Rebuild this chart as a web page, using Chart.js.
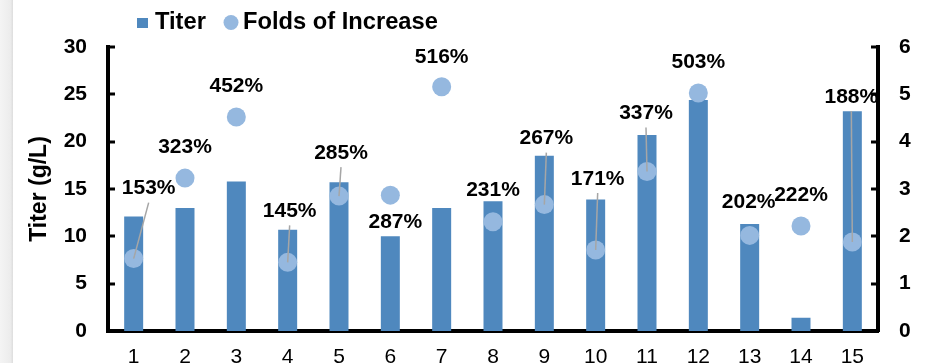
<!DOCTYPE html>
<html>
<head>
<meta charset="utf-8">
<script src="https://cdn.jsdelivr.net/npm/chart.js@4.4.0/dist/chart.umd.min.js"></script>
<style>
  html, body { margin: 0; padding: 0; overflow: hidden; background: #fff; }
  #wrap { position: relative; width: 925px; height: 363px; overflow: hidden; }
  #edge {
    position: absolute; left: 0; top: 0; width: 13px; height: 100%;
    background: linear-gradient(to right, #f4f4f4, #ececec 80%, #dddddd);
  }
  canvas { position: absolute; left: 0; top: 0; }
</style>
</head>
<body>
<div id="wrap">
  <canvas id="chart" width="960" height="392"></canvas>
  <div id="edge"></div>
</div>
<script>
// runs on the x axis
const runs = ['1', '2', '3', '4', '5', '6', '7', '8', '9', '10', '11', '12', '13', '14', '15'];
// titer in g/L (left axis)
const titer = [12.1, 13.0, 15.8, 10.7, 15.7, 10.0, 13.0, 13.7, 18.5, 13.9, 20.7, 24.4, 11.3, 1.4, 23.2];
// folds of increase (right axis), labelled as percent
const folds = [1.53, 3.23, 4.52, 1.45, 2.85, 2.87, 5.16, 2.31, 2.67, 1.71, 3.37, 5.03, 2.02, 2.22, 1.88];

// where each percent label sits relative to its point, and whether it gets a leader line
const labelShift = [[15, -70], [0, -31], [0, -31], [2, -51], [2, -43], [5, 27], [0, -30], [0, -31],
                    [2, -66], [2, -71], [-1, -58], [0, -31], [-1, -33], [0, -31], [-1, -145]];
const hasLeader = [true, false, false, true, true, false, false, false, true, true, true, false, false, false, true];

const BAR_BLUE = '#4F88BE';
const DOT_BLUE = '#95B8DF';
const FONT = "'Liberation Sans', Arial, sans-serif";

const annotate = {
  id: 'annotate',
  afterDatasetsDraw(chart) {
    const ctx = chart.ctx;
    const pts = chart.getDatasetMeta(0).data;
    ctx.save();
    ctx.font = 'bold 21px ' + FONT;
    ctx.textAlign = 'center';
    ctx.textBaseline = 'middle';
    pts.forEach((p, i) => {
      const lx = p.x + labelShift[i][0];
      const ly = p.y + labelShift[i][1];
      if (hasLeader[i]) {
        ctx.strokeStyle = '#A6A6A6';
        ctx.lineWidth = 1.5;
        ctx.beginPath();
        ctx.moveTo(lx, ly + 14);
        ctx.lineTo(p.x, p.y);
        ctx.stroke();
      }
      ctx.fillStyle = '#000';
      ctx.fillText(Math.round(folds[i] * 100) + '%', lx, ly);
    });
    ctx.restore();
  },
  afterDraw(chart) {
    const ctx = chart.ctx;
    const area = chart.chartArea;
    ctx.save();
    // short tick marks pointing into the plot
    ctx.strokeStyle = '#000';
    ctx.lineWidth = 3;
    ['y', 'y1'].forEach(id => {
      const s = chart.scales[id];
      s.ticks.forEach((t, i) => {
        const py = Math.round(s.getPixelForTick(i));
        ctx.beginPath();
        if (id === 'y') { ctx.moveTo(area.left, py); ctx.lineTo(area.left + 7, py); }
        else { ctx.moveTo(area.right - 7, py); ctx.lineTo(area.right, py); }
        ctx.stroke();
      });
    });
    // legend
    ctx.font = 'bold 23.7px ' + FONT;
    ctx.textBaseline = 'middle';
    ctx.textAlign = 'left';
    ctx.fillStyle = BAR_BLUE;
    ctx.fillRect(137, 18, 11, 10);
    ctx.fillStyle = '#000';
    ctx.fillText(chart.data.datasets[1].label, 155, 22);
    ctx.fillStyle = DOT_BLUE;
    ctx.beginPath();
    ctx.arc(231, 22.5, 7.5, 0, Math.PI * 2);
    ctx.fill();
    ctx.fillStyle = '#000';
    ctx.fillText(chart.data.datasets[0].label, 243, 22);
    ctx.restore();
  }
};

new Chart(document.getElementById('chart'), {
  data: {
    labels: runs,
    datasets: [
      {
        type: 'line',
        label: 'Folds of Increase',
        data: folds,
        yAxisID: 'y1',
        showLine: false,
        pointRadius: 9.5,
        pointBorderWidth: 0,
        pointBackgroundColor: DOT_BLUE,
        order: 0
      },
      {
        type: 'bar',
        label: 'Titer',
        data: titer,
        yAxisID: 'y',
        backgroundColor: BAR_BLUE,
        categoryPercentage: 1,
        barPercentage: 0.37,
        order: 1
      }
    ]
  },
  options: {
    responsive: false,
    animation: false,
    layout: { padding: { top: 47, left: 0, right: 0, bottom: 0 } },
    plugins: { legend: { display: false }, tooltip: { enabled: false } },
    scales: {
      x: {
        z: 1,
        grid: { display: false, drawTicks: false },
        border: { display: true, color: '#000', width: 4 },
        ticks: { color: '#000', padding: 14, font: { family: FONT, size: 21 } },
        afterFit(s) { s.height = 392 - 331; }
      },
      y: {
        z: 1,
        position: 'left',
        min: 0, max: 30,
        grid: { display: false, drawTicks: false },
        border: { display: true, color: '#000', width: 4 },
        ticks: { stepSize: 5, color: '#000', padding: 21, font: { family: FONT, size: 21, weight: 'bold' } },
        title: {
          display: true, text: 'Titer (g/L)', color: '#000',
          padding: { top: 26, bottom: 0 },
          font: { family: FONT, size: 23, weight: 'bold' }
        },
        afterFit(s) { s.width = 108; }
      },
      y1: {
        z: 1,
        position: 'right',
        min: 0, max: 6,
        grid: { display: false, drawTicks: false },
        border: { display: true, color: '#000', width: 4 },
        ticks: { stepSize: 1, color: '#000', padding: 21, font: { family: FONT, size: 21, weight: 'bold' } },
        title: {
          display: true, text: 'Folds of Increase', color: '#000',
          padding: { top: 15, bottom: 0 },
          font: { family: FONT, size: 23, weight: 'bold' }
        },
        afterFit(s) { s.width = 960 - 878; }
      }
    }
  },
  plugins: [annotate]
});
</script>
</body>
</html>
